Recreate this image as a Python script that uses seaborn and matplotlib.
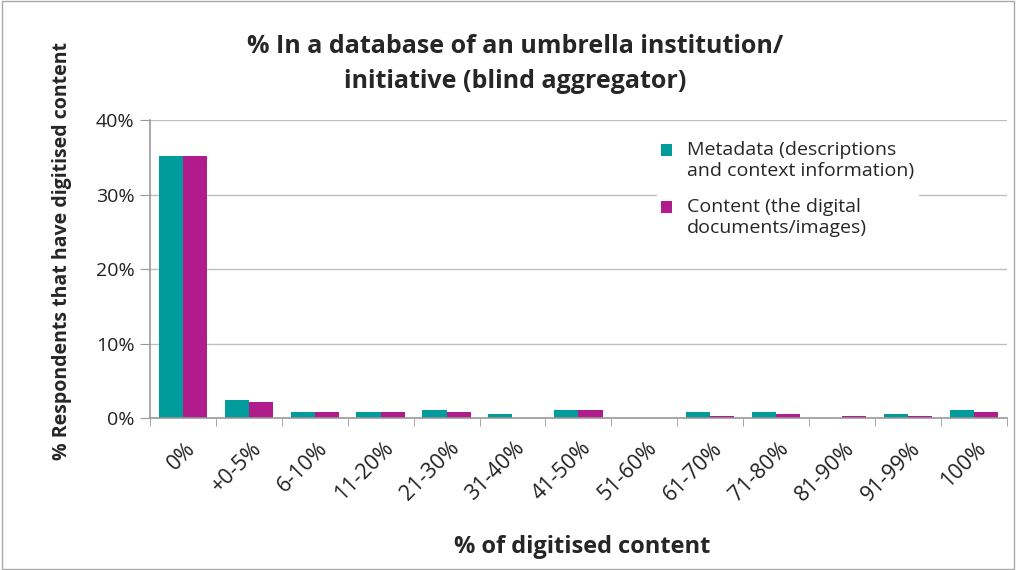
import pandas as pd
import matplotlib.pyplot as plt
import matplotlib.patches as mpatches
import matplotlib.transforms as mtransforms
from matplotlib.legend_handler import HandlerPatch
import seaborn as sns

# Data
categories = ['0%', '+0-5%', '6-10%', '11-20%', '21-30%', '31-40%', '41-50%',
              '51-60%', '61-70%', '71-80%', '81-90%', '91-99%', '100%']
metadata = [35.2, 2.5, 0.8, 0.8, 1.1, 0.6, 1.1, 0.0, 0.8, 0.8, 0.0, 0.6, 1.1]
content = [35.2, 2.2, 0.8, 0.8, 0.8, 0.0, 1.1, 0.0, 0.3, 0.6, 0.3, 0.3, 0.8]
series_names = ['Metadata (descriptions\nand context information)',
                'Content (the digital\ndocuments/images)']
colors = ['#009B9B', '#B01C8C']

df = pd.DataFrame({
    'cat': categories * 2,
    'value': metadata + content,
    'serie': [series_names[0]] * len(categories) + [series_names[1]] * len(categories),
})

sns.set_style('white')
plt.rcParams['font.family'] = ['Open Sans', 'DejaVu Sans']

fig = plt.figure(figsize=(10.16, 5.70), dpi=100)
ax = fig.add_axes([0.1476, 0.266, 0.8434, 0.5235])

sns.barplot(data=df, x='cat', y='value', hue='serie', palette=colors,
            width=0.735, ax=ax, saturation=1, edgecolor='none')

ax.set_ylim(0, 40)
ax.set_yticks([0, 10, 20, 30, 40])
ax.set_yticklabels(['0%', '10%', '20%', '30%', '40%'], fontsize=14, color='#222222')
ax.set_xlim(-0.5, len(categories) - 0.5)
ax.set_xticks([i for i in range(len(categories))])
ax.set_xticklabels(categories, rotation=45, ha='right', va='top',
                   rotation_mode='anchor', fontsize=15.5, color='#222222')
ax.tick_params(axis='x', length=0, pad=14)
ax.tick_params(axis='y', length=7, color='#999999', direction='out', left=True, pad=4)
shift = mtransforms.ScaledTranslation(2 / 100, 0, fig.dpi_scale_trans)
for lbl in ax.get_xticklabels():
    lbl.set_transform(lbl.get_transform() + shift)

# category boundary tick marks
ax.set_xticks([i - 0.5 for i in range(len(categories) + 1)], minor=True)
ax.tick_params(axis='x', which='minor', length=6, color='#999999', direction='out', bottom=True)

ax.yaxis.grid(True, color='#BFBFBF', linewidth=1)
ax.set_axisbelow(True)
for s in ['top', 'right']:
    ax.spines[s].set_visible(False)
for s in ['left', 'bottom']:
    ax.spines[s].set_color('#999999')
    ax.spines[s].set_linewidth(1.2)

ax.set_xlabel('% of digitised content', fontsize=17, fontweight='bold')
ax.xaxis.set_label_coords(0.504, -0.39)
ax.set_ylabel('% Respondents that have digitised content', fontsize=14, fontweight='bold')
ax.yaxis.set_label_coords(-0.091, 0.561)

fig.suptitle('% In a database of an umbrella institution/\ninitiative (blind aggregator)',
             x=0.507, y=0.94, fontsize=18, fontweight='bold', linespacing=1.5)


# legend squares sit next to the first line of each label
def top_square(legend, orig_handle, xdescent, ydescent, width, height, fontsize):
    return mpatches.Rectangle((-xdescent, -ydescent + 0.55 * fontsize), width, height)


handles, labels = ax.get_legend_handles_labels()
leg = ax.legend(handles, labels, loc='upper left', bbox_to_anchor=(0.58, 0.975), frameon=True,
                fontsize=14, handlelength=0.6, handleheight=0.6, handletextpad=0.75,
                labelspacing=0.95, borderpad=0.2,
                handler_map={mpatches.Rectangle: HandlerPatch(patch_func=top_square)})
leg.get_frame().set_edgecolor('white')
leg.get_frame().set_facecolor('white')
leg.get_frame().set_alpha(1)

# outer border
fig.patches.append(plt.Rectangle((0.002, 0.002), 0.996, 0.996, transform=fig.transFigure,
                                 fill=False, edgecolor='#AAAAAA', linewidth=1))

plt.savefig('out.png', dpi=100)
